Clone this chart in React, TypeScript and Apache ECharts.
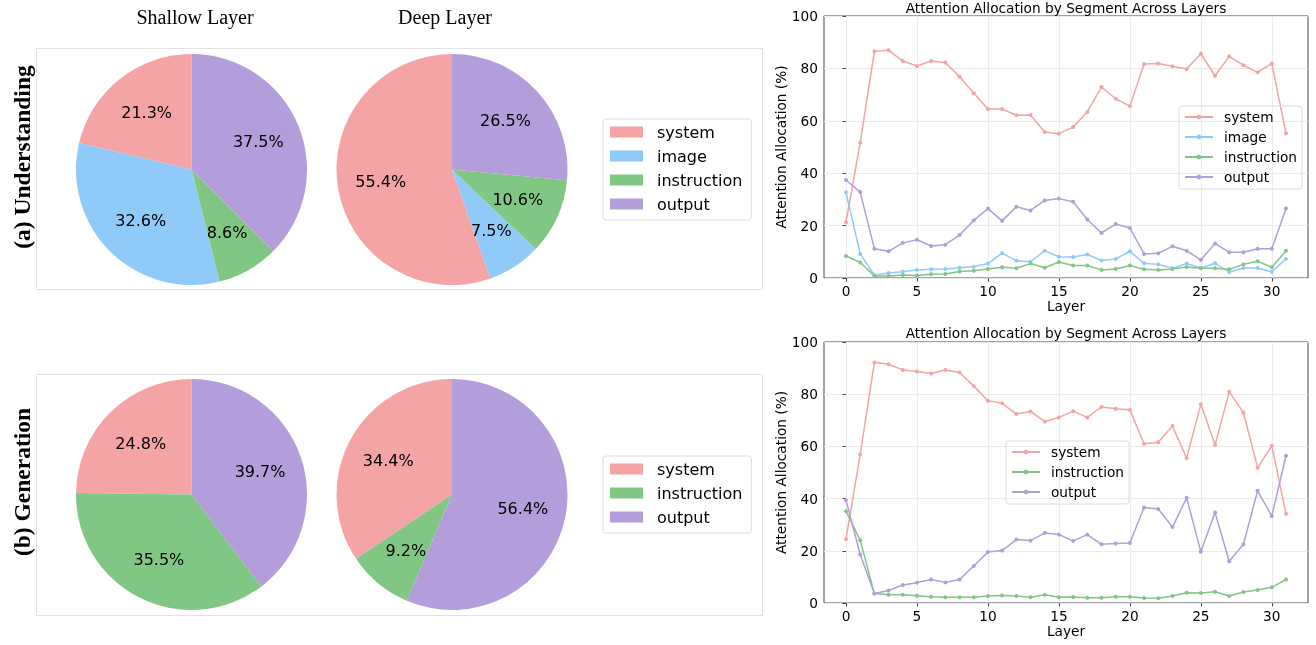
import React, { useEffect, useRef } from "react";
import * as echarts from "echarts";

// ---------- data ----------
const segUnd = ["system", "image", "instruction", "output"];
const segGen = ["system", "instruction", "output"];

const shallowUnd = [21.3, 32.6, 8.6, 37.5];
const deepUnd = [55.4, 7.5, 10.6, 26.5];
const shallowGen = [24.8, 35.5, 39.7];
const deepGen = [34.4, 9.2, 56.4];

const layers = [
  0, 1, 2, 3, 4, 5, 6, 7, 8, 9, 10, 11, 12, 13, 14, 15, 16, 17, 18, 19, 20,
  21, 22, 23, 24, 25, 26, 27, 28, 29, 30, 31,
];
const xTicks = [0, 5, 10, 15, 20, 25, 30];

// Understanding
const undSystem = [
  21.3, 51.6, 86.5, 86.9, 82.8, 80.9, 82.8, 82.2, 76.8, 70.5, 64.5, 64.5,
  62.1, 62.2, 55.7, 55.1, 57.6, 63.4, 72.9, 68.4, 65.6, 81.7, 81.9, 80.8,
  79.8, 85.6, 77.2, 84.6, 81.2, 78.5, 81.9, 55.2,
];
const undImage = [
  32.7, 9.2, 1.1, 1.9, 2.4, 3.1, 3.3, 3.4, 3.9, 4.3, 5.5, 9.5, 6.6, 6.2, 10.4,
  8.1, 8.0, 9.0, 6.7, 7.3, 10.2, 5.6, 5.2, 3.7, 5.5, 3.8, 5.6, 2.3, 3.8, 3.8,
  2.4, 7.3,
];
const undInstruction = [
  8.4, 5.9, 0.8, 0.8, 1.1, 1.0, 1.4, 1.5, 2.5, 2.8, 3.4, 4.1, 3.7, 5.5, 3.9,
  6.1, 4.8, 4.8, 3.1, 3.4, 4.8, 3.3, 3.1, 3.4, 4.2, 3.7, 3.7, 3.3, 5.2, 6.4,
  4.1, 10.4,
];
const undOutput = [
  37.4, 32.8, 11.2, 10.2, 13.4, 14.6, 12.2, 12.7, 16.4, 22.0, 26.5, 21.8,
  27.2, 25.8, 29.6, 30.3, 29.1, 22.3, 17.2, 20.6, 19.1, 9.2, 9.4, 12.1, 10.4,
  6.9, 13.2, 9.8, 9.8, 11.2, 11.2, 26.5,
];

// Generation
const genSystem = [
  24.5, 56.9, 92.2, 91.5, 89.3, 88.7, 87.9, 89.3, 88.3, 83.1, 77.5, 76.5,
  72.4, 73.4, 69.5, 71.1, 73.5, 71.1, 75.1, 74.4, 74.0, 61.0, 61.6, 67.8,
  55.5, 76.2, 60.6, 80.9, 73.0, 51.8, 60.3, 34.2,
];
const genInstruction = [
  35.2, 24.0, 3.6, 3.2, 3.2, 2.8, 2.4, 2.2, 2.2, 2.2, 2.7, 2.9, 2.7, 2.2, 3.2,
  2.2, 2.3, 2.0, 2.0, 2.4, 2.4, 1.9, 1.8, 2.7, 3.9, 3.8, 4.3, 2.7, 4.2, 5.0,
  6.0, 9.0,
];
const genOutput = [
  39.4, 18.6, 3.6, 4.8, 6.9, 7.8, 9.0, 7.9, 9.0, 14.2, 19.5, 20.1, 24.3, 23.9,
  26.8, 26.2, 23.8, 26.2, 22.5, 22.8, 23.0, 36.6, 36.0, 29.1, 40.3, 19.6,
  34.7, 16.0, 22.5, 43.0, 33.3, 56.4,
];

const colors: Record<string, string> = {
  system: "#F4A4A4",
  image: "#90CAF9",
  instruction: "#81C784",
  output: "#B39DDB",
};

const SANS = "DejaVu Sans";
const SERIF = "Liberation Serif";

function pieSeries(
  names: string[],
  values: number[],
  cx: number,
  cy: number,
  r: number
) {
  const data = names.map((n, i) => ({
    name: n,
    value: values[i],
    itemStyle: { color: colors[n] },
  }));
  const base = {
    type: "pie",
    center: [cx, cy],
    startAngle: 90,
    clockwise: false,
    silent: true,
    avoidLabelOverlap: false,
    labelLine: { show: false },
    emphasis: { disabled: true },
  };
  return [
    {
      ...base,
      radius: [0, r],
      itemStyle: { borderWidth: 0 },
      label: { show: false },
      data,
    },
    {
      ...base,
      radius: [r * 0.2, r],
      itemStyle: { color: "rgba(0,0,0,0)", borderWidth: 0 },
      label: {
        show: true,
        position: "inside",
        fontFamily: SANS,
        fontSize: 16,
        color: "#000",
        formatter: (p: any) => p.value.toFixed(1) + "%",
      },
      data: names.map((n, i) => ({
        name: n,
        value: values[i],
        itemStyle: { color: "rgba(0,0,0,0)" },
      })),
    },
  ];
}

function pieLegend(names: string[], top: number) {
  return {
    orient: "vertical",
    left: 603,
    top,
    icon: "rect",
    itemWidth: 33,
    itemHeight: 11,
    itemGap: 8,
    padding: [5, 9, 8, 7],
    borderColor: "#dcdcdc",
    borderWidth: 1,
    borderRadius: 3,
    selectedMode: false,
    textStyle: {
      fontFamily: SANS,
      fontSize: 16,
      color: "#000",
      padding: [0, 0, 0, 9],
    },
    data: names,
  };
}

function lineLegend(names: string[], left: number, top: number) {
  return {
    orient: "vertical",
    left,
    top,
    itemWidth: 28,
    itemHeight: 6,
    itemGap: 6,
    padding: [4, 5, 5, 5],
    borderColor: "#dcdcdc",
    borderWidth: 1,
    borderRadius: 3,
    selectedMode: false,
    textStyle: {
      fontFamily: SANS,
      fontSize: 13.7,
      color: "#000",
      padding: [0, 0, 0, 6],
    },
    data: names,
  };
}

function lineSeries(name: string, values: number[], axisIndex: number) {
  return {
    type: "line",
    name,
    xAxisIndex: axisIndex,
    yAxisIndex: axisIndex,
    data: layers.map((l, i) => [l, values[i]]),
    symbol: "circle",
    symbolSize: 4,
    showSymbol: true,
    silent: true,
    color: colors[name],
    lineStyle: { width: 1.5, color: colors[name] },
    itemStyle: { color: colors[name] },
    emphasis: { disabled: true },
  };
}

function xAxisDef(gridIndex: number) {
  return {
    type: "value",
    gridIndex,
    min: -1.55,
    max: 32.55,
    name: "Layer",
    nameLocation: "middle",
    nameGap: 19,
    nameTextStyle: { fontFamily: SANS, fontSize: 13.7, color: "#000" },
    axisLine: { show: false },
    axisTick: {
      show: true,
      customValues: xTicks,
      length: 3.5,
      lineStyle: { color: "#444" },
    },
    axisLabel: {
      customValues: xTicks,
      fontFamily: SANS,
      fontSize: 13.7,
      color: "#000",
      margin: 6,
    },
    splitLine: { show: true, lineStyle: { color: "#ebebeb", width: 1 } },
  };
}

function yAxisDef(gridIndex: number) {
  return {
    type: "value",
    gridIndex,
    min: 0,
    max: 100,
    interval: 20,
    name: "Attention Allocation (%)",
    nameLocation: "middle",
    nameGap: 32,
    nameTextStyle: { fontFamily: SANS, fontSize: 13.7, color: "#000" },
    axisLine: { show: false },
    axisTick: { show: true, length: 3.5, lineStyle: { color: "#444" } },
    axisLabel: {
      fontFamily: SANS,
      fontSize: 13.7,
      color: "#000",
      margin: 6,
    },
    splitLine: { show: true, lineStyle: { color: "#ebebeb", width: 1 } },
  };
}

const TITLE = "Attention Allocation by Segment Across Layers";

export default function App() {
  const leftRef = useRef<HTMLDivElement>(null);
  const rightRef = useRef<HTMLDivElement>(null);

  useEffect(() => {
    const left = echarts.init(leftRef.current!, null, { renderer: "svg" });
    const right = echarts.init(rightRef.current!, null, { renderer: "svg" });

    const R = 115.5;
    left.setOption({
      animation: false,
      graphic: [
        {
          type: "rect",
          shape: { x: 36.5, y: 48.5, width: 726, height: 241 },
          style: { fill: "none", stroke: "#e2e2e2", lineWidth: 1 },
          silent: true,
        },
        {
          type: "rect",
          shape: { x: 36.5, y: 374.5, width: 726, height: 241 },
          style: { fill: "none", stroke: "#e2e2e2", lineWidth: 1 },
          silent: true,
        },
        {
          type: "text",
          x: 195,
          y: 17,
          style: {
            text: "Shallow Layer",
            fontFamily: SERIF,
            fontSize: 20,
            fill: "#000",
            align: "center",
            verticalAlign: "middle",
          },
        },
        {
          type: "text",
          x: 445,
          y: 17,
          style: {
            text: "Deep Layer",
            fontFamily: SERIF,
            fontSize: 20,
            fill: "#000",
            align: "center",
            verticalAlign: "middle",
          },
        },
        {
          type: "text",
          x: 22,
          y: 157,
          rotation: Math.PI / 2,
          style: {
            text: "(a) Understanding",
            fontFamily: SERIF,
            fontWeight: "bold",
            fontSize: 23.5,
            fill: "#000",
            align: "center",
            verticalAlign: "middle",
          },
        },
        {
          type: "text",
          x: 22,
          y: 482,
          rotation: Math.PI / 2,
          style: {
            text: "(b) Generation",
            fontFamily: SERIF,
            fontWeight: "bold",
            fontSize: 23.5,
            fill: "#000",
            align: "center",
            verticalAlign: "middle",
          },
        },
      ],
      legend: [pieLegend(segUnd, 119), pieLegend(segGen, 456)],
      series: [
        ...pieSeries(segUnd, shallowUnd, 191.5, 169.5, R),
        ...pieSeries(segUnd, deepUnd, 452, 169.5, R),
        ...pieSeries(segGen, shallowGen, 191.5, 494.5, R),
        ...pieSeries(segGen, deepGen, 452, 494.5, R),
      ],
    });

    right.setOption({
      animation: false,
      title: [
        {
          text: TITLE,
          left: 1066,
          top: 8,
          textAlign: "center",
          textVerticalAlign: "middle",
          textStyle: {
            fontFamily: SANS,
            fontSize: 13.7,
            fontWeight: "normal",
            color: "#000",
          },
          padding: 0,
        },
        {
          text: TITLE,
          left: 1066,
          top: 333,
          textAlign: "center",
          textVerticalAlign: "middle",
          textStyle: {
            fontFamily: SANS,
            fontSize: 13.7,
            fontWeight: "normal",
            color: "#000",
          },
          padding: 0,
        },
      ],
      grid: [
        {
          left: 824,
          top: 16,
          width: 484,
          height: 262,
          show: true,
          borderColor: "#444",
          borderWidth: 1,
          backgroundColor: "transparent",
        },
        {
          left: 824,
          top: 342,
          width: 484,
          height: 261,
          show: true,
          borderColor: "#444",
          borderWidth: 1,
          backgroundColor: "transparent",
        },
      ],
      xAxis: [xAxisDef(0), xAxisDef(1)],
      yAxis: [yAxisDef(0), yAxisDef(1)],
      legend: [lineLegend(segUnd, 1179, 106), lineLegend(segGen, 1006, 441)],
      series: [
        lineSeries("system", undSystem, 0),
        lineSeries("image", undImage, 0),
        lineSeries("instruction", undInstruction, 0),
        lineSeries("output", undOutput, 0),
        lineSeries("system", genSystem, 1),
        lineSeries("instruction", genInstruction, 1),
        lineSeries("output", genOutput, 1),
      ],
    });

    return () => {
      left.dispose();
      right.dispose();
    };
  }, []);

  const boxStyle: React.CSSProperties = {
    position: "fixed",
    left: 0,
    top: 0,
    width: 1316,
    height: 645,
  };
  return (
    <div style={{ background: "#fff" }}>
      <div ref={leftRef} style={boxStyle} />
      <div ref={rightRef} style={boxStyle} />
    </div>
  );
}
